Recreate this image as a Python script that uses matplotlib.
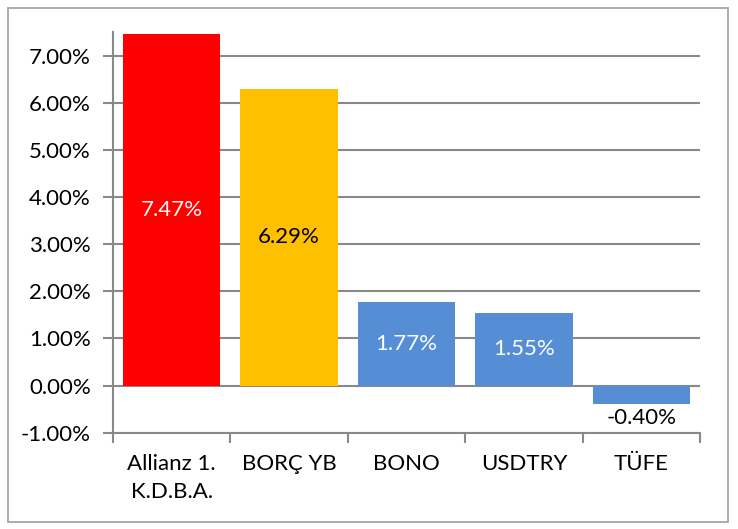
import matplotlib.pyplot as plt
from matplotlib.patches import Rectangle
from matplotlib.ticker import FuncFormatter, MultipleLocator

categories = ["Allianz 1.\nK.D.B.A.", "BORÇ YB", "BONO", "USDTRY", "TÜFE"]
values = [7.47, 6.29, 1.77, 1.55, -0.40]
bar_colors = ["#FF0000", "#FFC000", "#558ED5", "#558ED5", "#558ED5"]
label_colors = ["white", "black", "white", "white", "black"]

plt.rcParams['font.family'] = ['Lato', 'DejaVu Sans']
FS = 16

fig = plt.figure(figsize=(7.38, 5.29), dpi=100)
ax = fig.add_axes([113/738, 1-432.7/529, (700-113)/738, (432.7-32.3)/529])

x = list(range(len(categories)))
bars = ax.bar(x, values, width=0.83, color=bar_colors, zorder=3)

ax.set_xlim(-0.5, len(categories) - 0.5)
ax.set_ylim(-1.0, 7.5)
ax.yaxis.set_major_locator(MultipleLocator(1.0))
ax.yaxis.set_major_formatter(FuncFormatter(lambda v, p: f"{v:.2f}%"))
ax.grid(axis='y', color='#898989', linewidth=1.5, zorder=0)

for s in ['top', 'right']:
    ax.spines[s].set_visible(False)
for s in ['left', 'bottom']:
    ax.spines[s].set_color('#898989')
    ax.spines[s].set_linewidth(1.5)

ax.set_xticks([i - 0.5 for i in range(len(categories) + 1)], minor=False)
ax.set_xticklabels([])
ax.set_xticks(x, minor=True)
ax.set_xticklabels(categories, minor=True, fontsize=FS, linespacing=1.55)
ax.tick_params(axis='x', which='major', length=7, color='#898989', width=1.5, direction='out')
ax.tick_params(axis='x', which='minor', length=0, pad=15)
ax.tick_params(axis='y', length=7, color='#898989', width=1.5, labelsize=FS, pad=9)

for xi, v, lc in zip(x, values, label_colors):
    if v >= 0:
        ax.text(xi, v / 2, f"{v:.2f}%", ha='center', va='center', color=lc, fontsize=FS, zorder=4)
    else:
        ax.text(xi, v - 0.07, f"{v:.2f}%", ha='center', va='top', color=lc, fontsize=FS, zorder=4)

fig.patches.append(Rectangle((8/738, 1-522/529), 720/738, 514/529, transform=fig.transFigure,
                             fill=False, edgecolor='#A6A6A6', linewidth=1.3))

fig.savefig('out.png', dpi=100)
